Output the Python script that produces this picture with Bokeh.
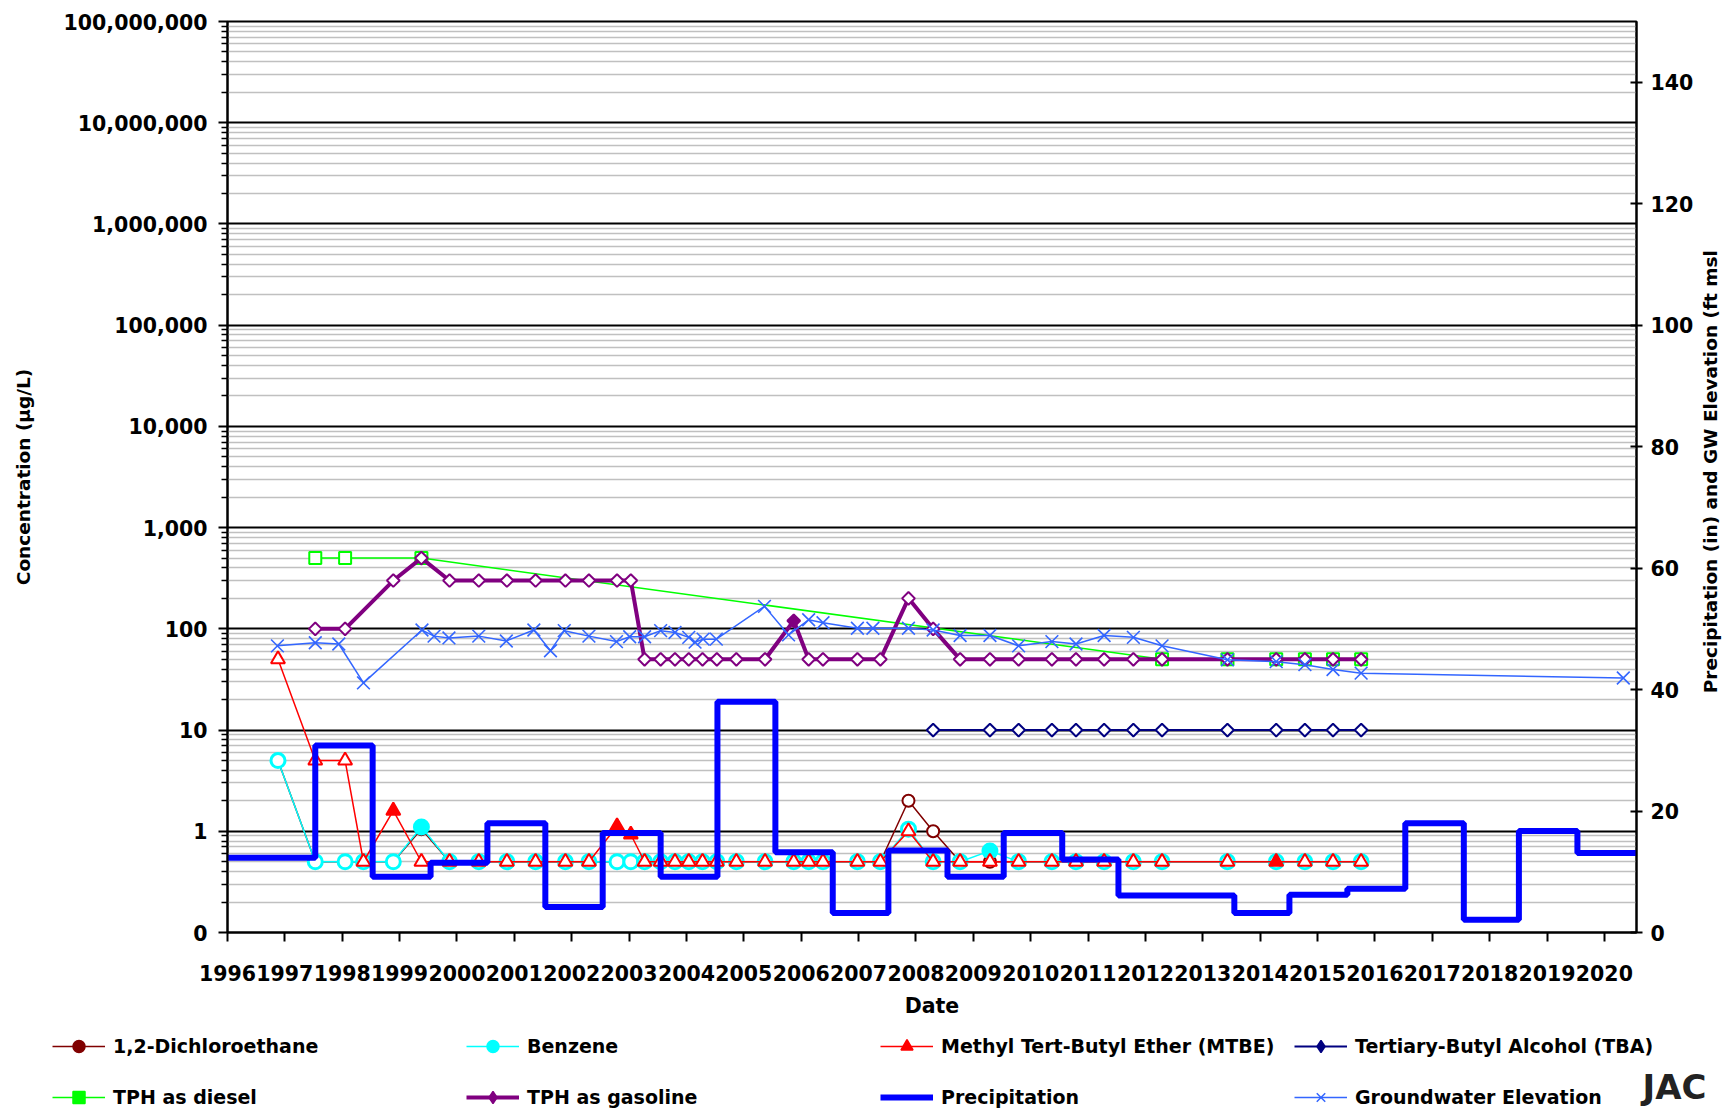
import math
from bokeh.plotting import figure
from bokeh.layouts import column, row
from bokeh.models import (Range1d, LinearAxis, LinearScale, FixedTicker, NumeralTickFormatter,
                          Legend, LegendItem)
from bokeh.core.properties import value
from bokeh.embed import file_html
from bokeh.resources import INLINE

# ---------------- data (decimal years) ----------------
YEARS = list(range(1996, 2021))
LEFT_TICKS = [0.1, 1, 10, 100, 1000, 1e4, 1e5, 1e6, 1e7, 1e8]
RIGHT_TICKS = [0, 20, 40, 60, 80, 100, 120, 140]

SAMPLE_DATES = [1996.88, 1997.53, 1998.05, 1998.37, 1998.89, 1999.38, 1999.87, 2000.38,
                2000.87, 2001.37, 2001.89, 2002.30, 2002.79, 2003.03, 2003.27, 2003.55,
                2003.80, 2004.04, 2004.28, 2004.53, 2004.87, 2005.37, 2005.87, 2006.13,
                2006.38, 2006.98, 2007.38, 2007.87, 2008.30, 2008.77, 2009.29, 2009.79,
                2010.37, 2010.79, 2011.28, 2011.79, 2012.29, 2013.43, 2014.28, 2014.78,
                2015.27, 2015.76]

DCA = [5, 0.5, 0.5, 0.5, 0.5, 1.05, 0.5, 0.5, 0.5, 0.5, 0.5, 0.5, 0.5, 0.5, 0.5, 0.5,
       0.5, 0.5, 0.5, 0.5, 0.5, 0.5, 0.5, 0.5, 0.5, 0.5, 0.5, 2.0, 1.0, 0.5, 0.5, 0.5,
       0.5, 0.5, 0.5, 0.5, 0.5, 0.5, 0.5, 0.5, 0.5, 0.5]
DCA_DET = [i == 5 for i in range(42)]

BENZENE = [5, 0.5, 0.5, 0.5, 0.5, 1.1, 0.5, 0.5, 0.5, 0.5, 0.5, 0.5, 0.5, 0.5, 0.5, 0.5,
           0.5, 0.5, 0.5, 0.5, 0.5, 0.5, 0.5, 0.5, 0.5, 0.5, 0.5, 1.05, 0.5, 0.5, 0.64, 0.5,
           0.5, 0.5, 0.5, 0.5, 0.5, 0.5, 0.5, 0.5, 0.5, 0.5]
BENZENE_DET = [i in (5, 30) for i in range(42)]

MTBE = [50, 5, 5, 0.5, 1.6, 0.5, 0.5, 0.5, 0.5, 0.5, 0.5, 0.5, 1.12, 0.93, 0.5, 0.5,
        0.5, 0.5, 0.5, 0.5, 0.5, 0.5, 0.5, 0.5, 0.5, 0.5, 0.5, 1.0, 0.5, 0.5, 0.5, 0.5,
        0.5, 0.5, 0.5, 0.5, 0.5, 0.5, 0.5, 0.5, 0.5, 0.5]
MTBE_DET = [i in (4, 12, 13, 38) for i in range(42)]

TBA_DATES = [2008.30, 2009.29, 2009.79, 2010.37, 2010.79, 2011.28, 2011.79, 2012.29,
             2013.43, 2014.28, 2014.78, 2015.27, 2015.76]
TBA = [10, 10, 10, 10, 10, 10, 10, 10, 10, 10, 10, 10, 10]
TBA_DET = [False] * 13

DIESEL_DATES = [1997.53, 1998.05, 1999.38, 2012.29, 2013.43, 2014.28, 2014.78, 2015.27, 2015.76]
DIESEL = [500, 500, 500, 50, 50, 50, 50, 50, 50]
DIESEL_DET = [False] * 9

GASOLINE_DATES = [1997.53, 1998.05, 1998.89, 1999.38, 1999.87, 2000.38, 2000.87, 2001.37,
                  2001.89, 2002.30, 2002.79, 2003.03, 2003.27, 2003.55, 2003.80, 2004.04,
                  2004.28, 2004.53, 2004.87, 2005.37, 2005.87, 2006.13, 2006.38, 2006.98,
                  2007.38, 2007.87, 2008.30, 2008.77, 2009.29, 2009.79, 2010.37, 2010.79,
                  2011.28, 2011.79, 2012.29, 2013.43, 2014.28, 2014.78, 2015.27, 2015.76]
GASOLINE = [100, 100, 300, 500, 300, 300, 300, 300, 300, 300, 300, 300, 50, 50, 50, 50,
            50, 50, 50, 50, 120, 50, 50, 50, 50, 200, 100, 50, 50, 50, 50, 50,
            50, 50, 50, 50, 50, 50, 50, 50]
GASOLINE_DET = [i == 20 for i in range(40)]

GW_DATES = [1996.87, 1997.53, 1997.94, 1998.37, 1999.39, 1999.60, 1999.86, 2000.38,
            2000.86, 2001.34, 2001.63, 2001.87, 2002.30, 2002.78, 2003.01, 2003.27,
            2003.55, 2003.80, 2004.04, 2004.15, 2004.29, 2004.52, 2005.36, 2005.78,
            2006.13, 2006.38, 2006.98, 2007.25, 2007.87, 2008.30, 2008.77, 2009.29,
            2009.79, 2010.37, 2010.79, 2011.28, 2011.79, 2012.29, 2013.43, 2014.28,
            2014.78, 2015.27, 2015.76, 2020.33]
GW_ELEV = [47.2, 47.7, 47.5, 41.1, 49.8, 48.8, 48.5, 48.8, 48.0, 49.8, 46.4, 49.7,
           48.8, 47.9, 48.7, 48.7, 49.7, 49.4, 48.6, 47.8, 48.3, 48.3, 53.7, 49.0,
           51.5, 51.0, 50.1, 50.1, 50.1, 49.8, 48.9, 48.9, 47.2, 47.9, 47.5, 48.9,
           48.6, 47.2, 44.9, 44.6, 44.1, 43.3, 42.7, 41.9]

PRECIP_DATES = [1995.8, 1997.53, 1998.53, 1999.54, 2000.53, 2001.54, 2002.54, 2003.55,
                2004.54, 2005.55, 2006.55, 2007.52, 2008.55, 2009.53, 2010.55, 2011.53,
                2013.55, 2014.51, 2015.52, 2016.53, 2017.55, 2018.51, 2019.53, 2020.7]
PRECIP = [12.3, 30.8, 9.2, 11.5, 18.0, 4.2, 16.4, 9.2, 38.0, 13.2, 3.2, 13.5, 9.2, 16.4,
          12.0, 6.1, 3.2, 6.2, 7.2, 18.0, 2.1, 16.7, 13.1, 13.1]

FONT = "DejaVu Sans"
MAIN_W, MAIN_H = 1696, 1020
TOTAL_W, TOTAL_H = 1727, 1110

# ---------------- main figure ----------------
p = figure(width=MAIN_W, height=MAIN_H, output_backend="svg", toolbar_location=None,
           x_range=Range1d(1996.0, 2020.56), y_range=Range1d(0.1, 1e8),
           y_axis_type="log",
           min_border_left=227, min_border_right=60, min_border_top=21,
           min_border_bottom=MAIN_H - 933)
p.extra_y_ranges = {"right": Range1d(0, 150)}
p.extra_y_scales = {"right": LinearScale()}
p.background_fill_color = "white"
p.border_fill_color = "white"
p.outline_line_color = "black"
p.outline_line_width = 2

minor = [k * 10.0 ** e for e in range(-1, 8) for k in range(2, 10)]
yticker = FixedTicker(ticks=LEFT_TICKS, minor_ticks=minor)
p.xgrid.visible = False
p.ygrid.ticker = yticker
p.ygrid.grid_line_color = "black"
p.ygrid.grid_line_width = 2
p.ygrid.minor_grid_line_color = "#C0C0C0"
p.ygrid.minor_grid_line_width = 1.5


def style_axis(ax, size="20.5px"):
    ax.axis_line_color = "black"
    ax.axis_line_width = 2
    ax.major_tick_line_color = "black"
    ax.major_tick_line_width = 2
    ax.minor_tick_line_color = "black"
    ax.minor_tick_line_width = 1.5
    ax.major_label_text_font = FONT
    ax.major_label_text_font_style = "bold"
    ax.major_label_text_font_size = size
    ax.major_label_text_color = "black"
    ax.axis_label_text_font = FONT
    ax.axis_label_text_font_style = "bold"
    ax.axis_label_text_color = "black"


ya = p.yaxis[0]
style_axis(ya)
ya.ticker = yticker
ya.formatter = NumeralTickFormatter(format="0,0")
ya.major_tick_in = 0
ya.major_tick_out = 9
ya.minor_tick_in = 0
ya.minor_tick_out = 6
ya.major_label_standoff = 11
ya.axis_label = "Concentration (µg/L)"
ya.axis_label_text_font_size = "18.5px"
ya.axis_label_standoff = 27

xa = p.xaxis[0]
style_axis(xa)
xa.ticker = FixedTicker(ticks=YEARS)
xa.major_tick_in = 0
xa.major_tick_out = 9
xa.minor_tick_line_color = None
xa.major_label_standoff = 23
xa.axis_label = "Date"
xa.axis_label_text_font_size = "20.5px"
xa.axis_label_standoff = 10

ra = LinearAxis(y_range_name="right", ticker=FixedTicker(ticks=RIGHT_TICKS))
style_axis(ra)
ra.major_tick_in = 6
ra.major_tick_out = 6
ra.minor_tick_line_color = None
ra.major_label_standoff = 8
p.add_layout(ra, "right")


def series(dates, vals, det, color, marker, size, lw_line, lw_mark, angle=0.0):
    p.line(dates, vals, line_color=color, line_width=lw_line)
    ox = [x for x, d in zip(dates, det) if not d]
    oy = [y for y, d in zip(vals, det) if not d]
    fx = [x for x, d in zip(dates, det) if d]
    fy = [y for y, d in zip(vals, det) if d]
    p.scatter(ox, oy, marker=marker, size=size, angle=angle, line_color=color,
              fill_color="white", line_width=lw_mark)
    if fx:
        p.scatter(fx, fy, marker=marker, size=size, angle=angle, line_color=color,
                  fill_color=color, line_width=lw_mark)


series(SAMPLE_DATES, DCA, DCA_DET, "#800000", "circle", 12, 1.5, 2)
series(SAMPLE_DATES, BENZENE, BENZENE_DET, "#00FFFF", "circle", 14, 1.5, 3)
series(SAMPLE_DATES, MTBE, MTBE_DET, "#FF0000", "triangle", 14, 1.5, 2)
series(TBA_DATES, TBA, TBA_DET, "#000080", "square", 9, 2, 2, angle=math.pi / 4)
series(DIESEL_DATES, DIESEL, DIESEL_DET, "#00FF00", "square", 12, 1.5, 2)
series(GASOLINE_DATES, GASOLINE, GASOLINE_DET, "#800080", "square", 9, 4, 2, angle=math.pi / 4)
p.step(PRECIP_DATES, PRECIP, mode="after", line_color="#0000FF", line_width=6,
       y_range_name="right")
p.line(GW_DATES, GW_ELEV, line_color="#3366FF", line_width=1.5, y_range_name="right")
p.scatter(GW_DATES, GW_ELEV, marker="x", size=18, line_color="#3366FF",
          line_width=1.6, y_range_name="right")

# ---------------- right axis title (separate strip, reads bottom-to-top) ----------------
pt = figure(width=TOTAL_W - MAIN_W, height=MAIN_H, output_backend="svg", toolbar_location=None,
            x_range=Range1d(0, TOTAL_W - MAIN_W), y_range=Range1d(0, MAIN_H),
            min_border=0, min_border_left=0, min_border_right=0,
            min_border_top=0, min_border_bottom=0)
pt.axis.visible = False
pt.grid.visible = False
pt.outline_line_color = None
pt.background_fill_color = "white"
pt.border_fill_color = "white"
pt.text(x=[14], y=[MAIN_H - 504], text=["Precipitation (in) and GW Elevation (ft msl"],
        angle=math.pi / 2, text_align="center", text_baseline="middle",
        text_font=value(FONT), text_font_style="bold", text_font_size="18.5px",
        text_color="black")

# ---------------- legend strip ----------------
LEG_H = TOTAL_H - MAIN_H
pl = figure(width=TOTAL_W, height=LEG_H, output_backend="svg", toolbar_location=None,
            x_range=Range1d(0, TOTAL_W), y_range=Range1d(0, LEG_H),
            min_border=0, min_border_left=0, min_border_right=0,
            min_border_top=0, min_border_bottom=0)
pl.axis.visible = False
pl.grid.visible = False
pl.outline_line_color = None
pl.background_fill_color = "white"
pl.border_fill_color = "white"

OFF = [-1000]  # legend sample glyphs: one point far outside the strip's visible range


def leg_entry(color, lw, marker=None):
    rs = [pl.line(x=OFF * 2, y=[-1000, -999], line_color=color, line_width=lw)]
    if marker:
        fill = None if marker == "x" else color
        rs.append(pl.scatter(x=OFF, y=OFF, marker=marker, line_color=color, fill_color=fill,
                             line_width=1.5))
    return rs


def make_legend(items, y):
    lg = Legend(items=items, orientation="horizontal", location=(52, y),
                glyph_width=53, glyph_height=30, label_width=336, label_height=28,
                label_standoff=8, spacing=17, padding=0, margin=0,
                border_line_color=None, background_fill_alpha=0,
                label_text_font=FONT, label_text_font_style="bold",
                label_text_font_size="19px", label_text_color="black")
    pl.add_layout(lg)


make_legend([LegendItem(label="1,2-Dichloroethane", renderers=leg_entry("#800000", 1.5, "circle")),
             LegendItem(label="Benzene", renderers=leg_entry("#00FFFF", 1.5, "circle")),
             LegendItem(label="Methyl Tert-Butyl Ether (MTBE)",
                        renderers=leg_entry("#FF0000", 1.5, "triangle")),
             LegendItem(label="Tertiary-Butyl Alcohol (TBA)",
                        renderers=leg_entry("#000080", 2, "diamond"))], 49)
make_legend([LegendItem(label="TPH as diesel", renderers=leg_entry("#00FF00", 1.5, "square")),
             LegendItem(label="TPH as gasoline", renderers=leg_entry("#800080", 4, "diamond")),
             LegendItem(label="Precipitation", renderers=leg_entry("#0000FF", 6)),
             LegendItem(label="Groundwater Elevation",
                        renderers=leg_entry("#3366FF", 1.5, "x"))], -2)

pl.text(x=[1642], y=[LEG_H - 66], text=["JAC"], text_align="left",
        text_baseline="alphabetic", text_font=value(FONT), text_font_style="bold",
        text_font_size="34px", text_color="#222222")

layout = column(row(p, pt), pl)
open("out.html", "w").write(file_html(layout, INLINE))
